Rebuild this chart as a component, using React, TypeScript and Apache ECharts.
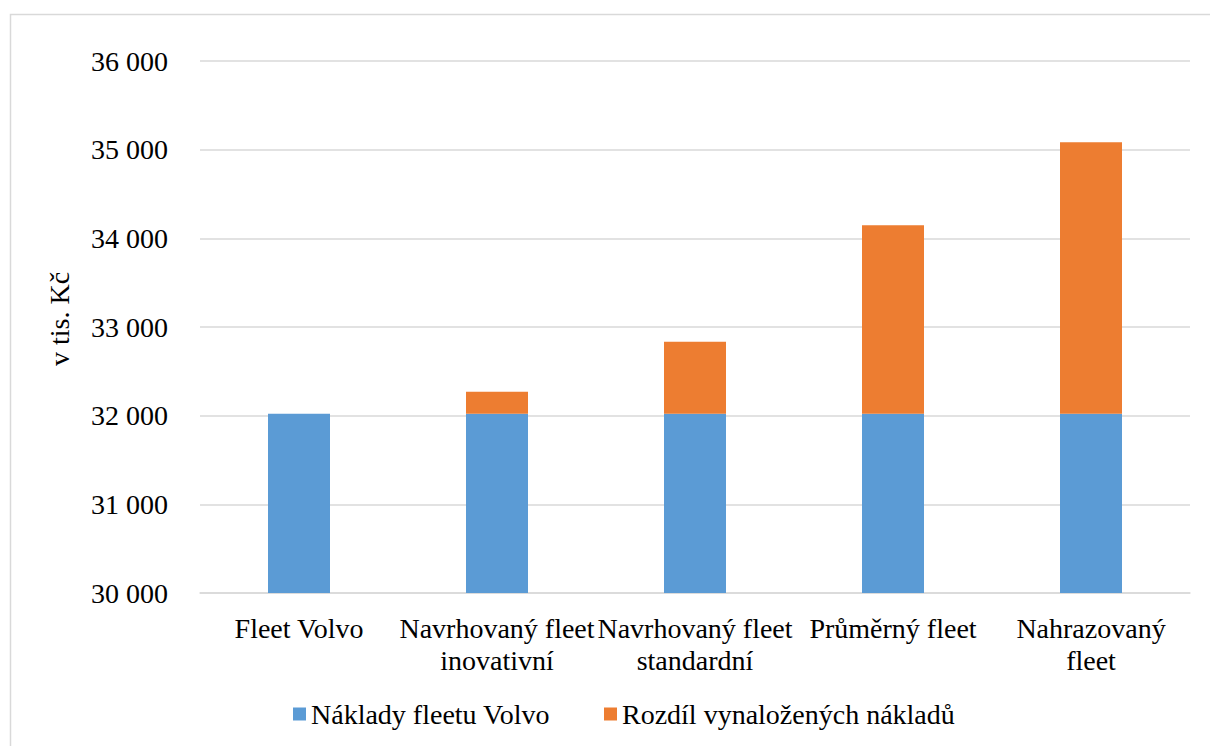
import React, { useEffect, useRef } from "react";
import * as echarts from "echarts";

const categoryLabels = [
  "Fleet Volvo",
  "Navrhovaný fleet\ninovativní",
  "Navrhovaný fleet\nstandardní",
  "Průměrný fleet",
  "Nahrazovaný\nfleet",
];
const baseCosts = [32023, 32023, 32023, 32023, 32023];
const costDifference = [0, 248, 812, 2124, 3060];
const seriesNames = ["Náklady fleetu Volvo", "Rozdíl vynaložených nákladů"];
const yAxisTitle = "v tis. Kč";

const FONT = "Liberation Serif";
const FS = 28;

export default function App() {
  const ref = useRef<HTMLDivElement>(null);
  useEffect(() => {
    if (!ref.current) return;
    const chart = echarts.init(ref.current, null, { renderer: "svg" });
    chart.setOption({
      animation: false,
      backgroundColor: "#ffffff",
      textStyle: { fontFamily: FONT, color: "#000" },
      graphic: [
        {
          type: "rect",
          shape: { x: 10.5, y: 14.5, width: 1300, height: 900 },
          style: { fill: "none", stroke: "#d9d9d9", lineWidth: 1.5 },
          silent: true,
          z: -1,
        },
      ],
      grid: { left: 200, right: 20, top: 61, bottom: 153, containLabel: false },
      legend: {
        bottom: 13,
        left: 288,
        itemWidth: 13,
        itemHeight: 13,
        itemGap: 54,
        icon: "rect",
        textStyle: { fontFamily: FONT, fontSize: FS, color: "#000" },
        data: seriesNames,
      },
      xAxis: {
        type: "category",
        data: categoryLabels,
        axisLine: { show: true, lineStyle: { color: "#d9d9d9", width: 1.5 } },
        axisTick: { show: false },
        axisLabel: {
          interval: 0,
          margin: 19,
          fontFamily: FONT,
          fontSize: FS,
          lineHeight: 32,
          color: "#000",
        },
      },
      yAxis: {
        type: "value",
        min: 30000,
        max: 36000,
        interval: 1000,
        name: yAxisTitle,
        nameLocation: "middle",
        nameRotate: 90,
        nameGap: 127,
        nameTextStyle: {
          fontFamily: FONT,
          fontSize: FS,
          color: "#000",
          padding: [0, 0, 0, 16],
        },
        axisLine: { show: false },
        axisTick: { show: false },
        splitLine: { lineStyle: { color: "#d9d9d9", width: 1.5 } },
        axisLabel: {
          margin: 32,
          fontFamily: FONT,
          fontSize: FS,
          color: "#000",
          formatter: (v: number) =>
            String(v).replace(/\B(?=(\d{3})+(?!\d))/g, " "),
        },
      },
      series: [
        {
          name: seriesNames[0],
          type: "bar",
          stack: "total",
          barWidth: 62,
          data: baseCosts,
          itemStyle: { color: "#5b9bd5" },
        },
        {
          name: seriesNames[1],
          type: "bar",
          stack: "total",
          barWidth: 62,
          data: costDifference,
          itemStyle: { color: "#ed7d31" },
        },
      ],
    });
    return () => chart.dispose();
  }, []);
  return (
    <div
      ref={ref}
      style={{ position: "fixed", left: 0, top: 0, width: 1210, height: 746 }}
    />
  );
}
